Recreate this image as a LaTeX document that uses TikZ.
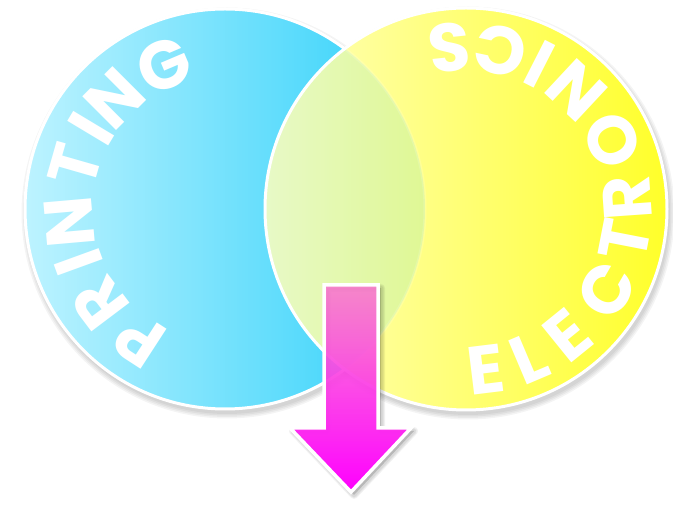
\documentclass[tikz,border=0pt]{standalone}
\usepackage{fontspec}
\newfontfamily\lettersfont{Poppins}
\usetikzlibrary{fadings}
\definecolor{cyanL}{HTML}{BDF3FF}
\definecolor{cyanR}{HTML}{2CD0FA}
\definecolor{yelL}{HTML}{FFFFBE}
\definecolor{yelR}{HTML}{FFFF2A}
\definecolor{arrTop}{HTML}{FF7AD4}
\definecolor{arrMid}{HTML}{FF18F2}
\definecolor{arrBot}{HTML}{FF00FF}
\tikzfading[name=arrowfade, top color=transparent!15, bottom color=transparent!0]
\tikzset{
  ring/.style={draw=white, line width=3pt},
  softshadow/.style={fill=black, fill opacity=0.045, draw=none},
  letterstyle/.style={text=white, inner sep=0pt, anchor=center,
    font=\lettersfont\bfseries\fontsize{68}{68}\selectfont},
  arrowfill/.style={top color=arrTop, middle color=arrMid, bottom color=arrBot, path fading=arrowfade},
  arrowedge/.style={draw=white, line width=3.5pt, line join=miter},
}
\begin{document}
\begin{tikzpicture}[x=1pt,y=1pt]
\useasboundingbox (0,0) rectangle (673,511);
\fill[white] (0,0) rectangle (673,511);
% shadows of the circles
\foreach \d in {0,1.5,3,4.5} {
  \fill[softshadow] (227,298) circle ({201+\d});
  \fill[softshadow] (468,298) circle ({202+\d});
}
% cyan circle
\node[circle, minimum size=400pt, inner sep=0pt, left color=cyanL, right color=cyanR, ring] (printing) at (225,302) {};
% yellow circle (opaque), then the cyan seen through it in the overlap
\node[circle, minimum size=402pt, inner sep=0pt, left color=yelL, right color=yelR] (electronics) at (466,302) {};
\begin{scope}
  \clip (466,302) circle (201);
  \node[circle, minimum size=400pt, inner sep=0pt, left color=cyanL, right color=cyanR, ring, opacity=0.15] (printingseen) at (225,302) {};
\end{scope}
\node[circle, minimum size=402pt, inner sep=0pt, ring] (electronicsring) at (466,302) {};
% PRINTING
\foreach \l/\a [count=\i] in {P/237, R/217, I/200, N/185, T/164, I/149, N/135, G/113}
  \node[letterstyle, rotate=\a-90] (pr\i) at ({225+156*cos(\a)},{302+156*sin(\a)}) {\l};
% ELECTRONICS
\foreach \l/\a [count=\i] in {E/277, L/293, E/309, C/330, T/349, R/364, O/385, N/407, I/423, C/438, S/456}
  \node[letterstyle, rotate=\a+90] (el\i) at ({466+162*cos(\a)},{302+162*sin(\a)}) {\l};
% arrow shadow
\foreach \w in {4pt,6pt,8pt} {
  \draw[black, opacity=0.05, line width=\w, line join=round, fill=black, fill opacity=0.05]
    (327,223) -- (381,223) -- (381,80) -- (414,80) -- (354,16) -- (293,80) -- (327,80) -- cycle;
}
% arrow
\shade[arrowfill] (324,226) -- (378,226) -- (378,83) -- (411,83) -- (351,19) -- (290,83) -- (324,83) -- cycle;
\path[arrowedge] (324,226) -- (378,226) -- (378,83) -- (411,83) -- (351,19) -- (290,83) -- (324,83) -- cycle;
\end{tikzpicture}
\end{document}
